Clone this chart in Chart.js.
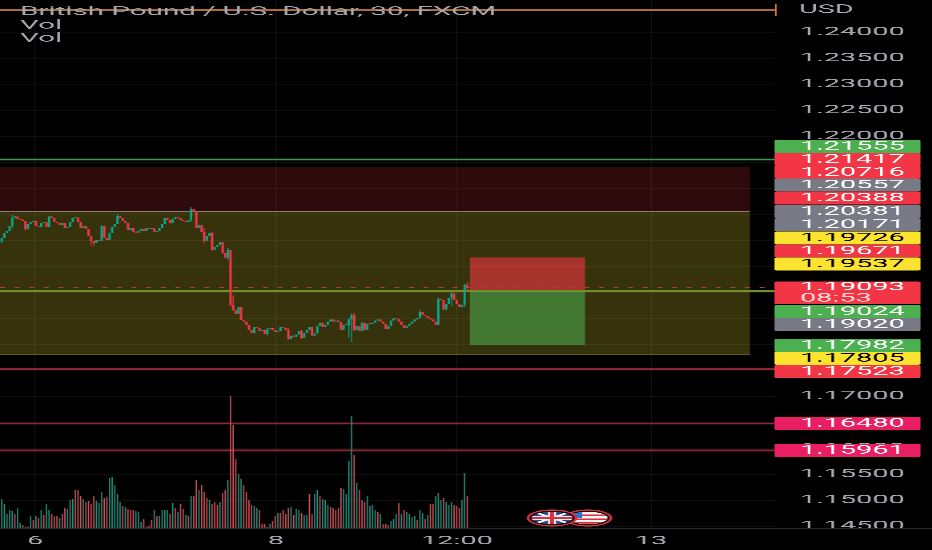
<!DOCTYPE html>
<html>
<head>
<meta charset="utf-8">
<title>GBPUSD</title>
<script src="https://cdn.jsdelivr.net/npm/chart.js@4/dist/chart.umd.min.js"></script>
<style>
html, body { margin: 0; background: #000; overflow: hidden; width: 932px; height: 550px; }
#wrap { position: absolute; left: 0; top: 0; transform-origin: 0 0; filter: blur(0.3px); }
</style>
</head>
<body>
<div id="wrap"><canvas id="gbp" width="388" height="550"></canvas></div>
<script>
// the screenshot is stretched sideways, so the whole canvas gets stretched too
var WIDTH = 388;
var STRETCH = 932 / WIDTH;
document.getElementById("wrap").style.transform = "scaleX(" + STRETCH + ")";
function sx(v) { return v / STRETCH; }

var firstOpen = 1.1996;
var closes = [
  1.2005,1.2014,1.2018,1.2028,1.2043,1.2046,1.2041,1.2040,1.2037,1.2022,
  1.2031,1.2035,1.2037,1.2028,1.2026,1.2033,1.2036,1.2026,1.2046,1.2043,
  1.2035,1.2034,1.2030,1.2033,1.2024,1.2026,1.2035,1.2043,1.2044,1.2035,
  1.2024,1.2028,1.2022,1.2008,1.1999,1.1995,1.2001,1.1999,1.2028,1.2005,
  1.2001,1.2014,1.2026,1.2031,1.2047,1.2043,1.2037,1.2033,1.2020,1.2024,
  1.2016,1.2015,1.2018,1.2022,1.2018,1.2024,1.2022,1.2023,1.2016,1.2018,
  1.2024,1.2031,1.2043,1.2039,1.2033,1.2041,1.2045,1.2043,1.2039,1.2037,
  1.2035,1.2039,1.2060,1.2055,1.2024,1.2030,1.2016,1.1999,1.2008,1.2014,
  1.1982,1.1988,1.1991,1.1997,1.1976,1.1967,1.1982,1.1876,1.1866,1.1859,
  1.1872,1.1847,1.1844,1.1838,1.1828,1.1822,1.1834,1.1832,1.1826,1.1828,
  1.1820,1.1830,1.1832,1.1828,1.1824,1.1826,1.1834,1.1832,1.1828,1.1811,
  1.1817,1.1815,1.1819,1.1826,1.1813,1.1822,1.1828,1.1834,1.1817,1.1821,
  1.1836,1.1842,1.1834,1.1838,1.1844,1.1848,1.1844,1.1846,1.1843,1.1828,
  1.1838,1.1838,1.1848,1.1857,1.1828,1.1836,1.1826,1.1842,1.1828,1.1840,
  1.1839,1.1842,1.1846,1.1848,1.1844,1.1840,1.1830,1.1836,1.1846,1.1850,
  1.1849,1.1844,1.1838,1.1832,1.1836,1.1840,1.1844,1.1848,1.1851,1.1863,
  1.1857,1.1855,1.1851,1.1848,1.1844,1.1838,1.1888,1.1886,1.1867,1.1878,
  1.1890,1.1898,1.1886,1.1877,1.1872,1.1876,1.1915,1.1909
];
var opens = closes.map(function (c, i) { return i ? closes[i - 1] : firstOpen; });

// only the wicks that can actually be seen in the picture
var wickSlots = [4,9,34,35,38,44,72,77,80,84,86,87,88,101,109,114,132,133,134,159,166,171,176,177];
var wickHighs = [1.2049,1.2037,1.2008,1.1999,1.2030,1.2051,1.2064,1.2024,1.2016,1.1997,1.1986,1.1978,1.1894,1.1832,1.1832,1.1828,1.1851,1.1861,1.1861,1.1867,1.1890,1.1901,1.1917,1.1920];
var wickLows  = [1.2024,1.2018,1.1990,1.1990,1.1999,1.2031,1.2035,1.1995,1.1980,1.1974,1.1963,1.1874,1.1865,1.1817,1.1809,1.1811,1.1813,1.1804,1.1826,1.1851,1.1853,1.1874,1.1872,1.1903];

var volumes = [
  29,24,14,18,17,14,20,5,3,1,
  1,12,8,12,10,18,13,24,18,14,
  12,12,10,14,20,19,28,29,38,38,
  32,29,26,27,24,32,27,25,36,30,
  31,50,51,43,34,26,22,21,19,18,
  18,17,16,6,9,1,2,8,18,12,
  12,18,18,18,14,25,20,16,24,19,
  13,12,32,32,48,38,43,36,30,28,
  24,26,23,26,35,38,48,132,103,69,
  54,49,43,36,28,23,22,20,18,4,
  4,1,4,7,12,15,15,18,14,20,
  21,13,19,18,15,13,13,34,14,34,
  38,32,29,28,23,21,20,18,20,40,
  39,34,67,112,73,45,38,28,26,32,
  22,23,18,16,14,4,4,3,7,9,
  14,25,14,18,16,14,11,12,8,18,
  15,9,13,24,24,32,35,28,30,26,
  23,26,23,22,20,28,55,32
];
var volumeDirs = ("uuuuuduudd" + "dudududuud" + "ddudduuudd" + "dudddduuud" + "duuuuududd" +
  "duuuddddud" + "uuuudududd" + "ududdudddu" + "dddudduddd" + "uudddduudd" +
  "dduddudddd" + "uduuduuddu" + "uduuuddddd" + "uuuududddu" + "uuududdduu" +
  "ududuuuudu" + "ududduuudu" + "uuddduud").split("");

var yTicks = [1.24,1.235,1.23,1.225,1.22,1.215,1.21,1.205,1.2,1.195,1.19,1.185,1.18,1.175,1.17,1.165,1.16,1.155,1.15,1.145];
var xTickSlots = [12.7, 104.3, 173.1, 246.9];
var xTickLabels = ["6", "8", "12:00", "13"];

var greenLine = 1.21555;
var redLines = [1.17523, 1.16480, 1.15961];
var entryLine = 1.19024;
var lastPrice = 1.19093;
var topLine = 1.24429;

var redZone = [1.21417, 1.20557];
var yellowZone = [1.20557, 1.17805];
var zoneEndSlot = 284.5;
var tradeSlots = [178, 221.8];
var tradeStop = 1.19671;
var tradeTarget = 1.17982;

var tagTexts = ["1.21555","1.21417","1.20716","1.20557","1.20388","1.20381","1.20171","1.19726","1.19671","1.19537","1.19093","1.19024","1.19020","1.17982","1.17805","1.17523","1.16480","1.15961"];
var tagKinds = ["green","red","red","gray","red","gray","gray","yellow","red","yellow","red","green","gray","green","yellow","red","pink","pink"];
var countdown = "08:53";

// where the price tags end up after stacking (pixels, not data)
var tagRows = [146.5,159.3,172.2,185,198,211.5,224.8,238,251,264,287,311.7,324.3,345.3,358.2,371.5,423.3,450.3];
var tagFill = { green: "#4caf50", red: "#f23645", gray: "#787b86", yellow: "#fbe32f", pink: "#e91e63" };

var UP = "#0ea68b", DOWN = "#f5364a";
var TEXT = "#a6a8ae";
var FONT = "Roboto";

function slots(n) { var a = []; for (var i = 0; i < n; i++) a.push(i); return a; }

var overlay = {
  id: "overlay",
  beforeDatasetsDraw: function (chart) {
    var c = chart.ctx, a = chart.chartArea, x = chart.scales.x, y = chart.scales.y;
    function band(v1, v2, s1, s2, col) {
      var y1 = y.getPixelForValue(v1), y2 = y.getPixelForValue(v2);
      c.fillStyle = col;
      c.fillRect(s1, y1, s2 - s1, y2 - y1);
    }
    function hline(v, end, col, w) {
      var py = y.getPixelForValue(v);
      c.strokeStyle = col; c.lineWidth = w;
      c.beginPath(); c.moveTo(a.left, py); c.lineTo(end, py); c.stroke();
    }
    var zoneEnd = x.getPixelForValue(zoneEndSlot);
    band(redZone[0], redZone[1], a.left, zoneEnd, "rgba(242,54,69,0.19)");
    band(yellowZone[0], yellowZone[1], a.left, zoneEnd, "rgba(255,235,59,0.21)");
    hline(redZone[1], zoneEnd, "#8a8168", 1.3);
    hline(yellowZone[1], zoneEnd, "#5e5a24", 1.2);

    var t1 = x.getPixelForValue(tradeSlots[0]), t2 = x.getPixelForValue(tradeSlots[1]);
    band(tradeStop, entryLine, t1, t2, "rgba(242,54,69,0.6)");
    band(entryLine, tradeTarget, t1, t2, "rgba(76,175,80,0.56)");

    hline(greenLine, a.right, "#3f9a45", 1.9);
    redLines.forEach(function (v) { hline(v, a.right, "#8f2434", 1.9); });
    hline(entryLine, a.right, "#6f8f2a", 1.6);
    c.save();
    c.setLineDash([sx(5), 4]);
    hline(lastPrice, a.right, "#a8423a", 1.2);
    c.restore();
  },
  afterDraw: function (chart) {
    var c = chart.ctx, a = chart.chartArea, y = chart.scales.y;
    // bottom strip hides the clipped tick label and carries the axis line
    c.fillStyle = "#000";
    c.fillRect(a.right, a.bottom, chart.width - a.right, 3);
    c.fillStyle = "#2b2b2b";
    c.fillRect(0, a.bottom, chart.width, 0.8);

    // orange line on top
    var py = y.getPixelForValue(topLine);
    c.fillStyle = "#b06a3c";
    c.fillRect(0, py - 0.7, a.right, 1.4);
    c.fillStyle = "#d07a3a";
    c.fillRect(a.right, py - 6, sx(1.6), 12);

    c.textBaseline = "middle";
    c.textAlign = "left";
    c.font = "12.3px " + FONT;
    c.fillStyle = TEXT;
    c.fillText("British Pound / U.S. Dollar, 30, FXCM", sx(20), 12);
    c.fillText("Vol", sx(20), 25.5);
    c.fillText("Vol", sx(20), 38.5);
    c.font = "12px " + FONT;
    c.fillText("USD", sx(799), 10);

    // price tags
    var left = sx(774.5), w = sx(146), textX = sx(800);
    tagTexts.forEach(function (t, i) {
      var kind = tagKinds[i], mid = tagRows[i];
      var two = t === "1.19093";
      var top = two ? 281.5 : mid - 6.5, h = two ? 22.8 : 13;
      c.fillStyle = tagFill[kind];
      c.beginPath();
      c.roundRect(left, top, w, h, 1);
      c.fill();
      c.fillStyle = kind === "yellow" ? "#000" : "#fff";
      c.fillText(t, textX, mid + 0.3);
      if (two) { c.fillStyle = "#ffd9d9"; c.fillText(countdown, textX, mid + 11.5); }
    });

    drawFlags(c);
  }
};

function drawFlags(c) {
  var ry = 8, usX = sx(588), ukX = sx(552), rxUs = sx(23), rxUk = sx(24);
  // US
  c.save();
  c.beginPath(); c.ellipse(usX, 518, rxUs, ry, 0, 0, Math.PI * 2);
  c.fillStyle = "#111"; c.fill(); c.lineWidth = 1.1; c.strokeStyle = "#d8303f"; c.stroke();
  c.beginPath(); c.ellipse(usX, 518, rxUs * 0.85, ry * 0.78, 0, 0, Math.PI * 2); c.clip();
  c.fillStyle = "#f4f4f4"; c.fillRect(usX - rxUs, 510, rxUs * 2, 16);
  c.fillStyle = "#d8303f";
  c.fillRect(usX - rxUs, 514.5, rxUs * 2, 1.6);
  c.fillRect(usX - rxUs, 518.5, rxUs * 2, 1.6);
  c.fillRect(usX - rxUs, 522, rxUs * 2, 1.6);
  c.fillStyle = "#2f6fd0"; c.fillRect(usX - rxUs, 510, rxUs * 0.75, 8);
  c.restore();
  // UK
  c.save();
  c.beginPath(); c.ellipse(ukX, 518, rxUk, ry, 0, 0, Math.PI * 2);
  c.fillStyle = "#111"; c.fill(); c.lineWidth = 1.1; c.strokeStyle = "#d8303f"; c.stroke();
  c.beginPath(); c.ellipse(ukX, 518, rxUk * 0.85, ry * 0.78, 0, 0, Math.PI * 2); c.clip();
  c.fillStyle = "#2c4488"; c.fillRect(ukX - rxUk, 510, rxUk * 2, 16);
  c.strokeStyle = "#f2f2f2"; c.lineWidth = 1.6;
  c.beginPath();
  c.moveTo(ukX - rxUk, 510); c.lineTo(ukX + rxUk, 526);
  c.moveTo(ukX + rxUk, 510); c.lineTo(ukX - rxUk, 526);
  c.stroke();
  c.fillStyle = "#f2f2f2";
  c.fillRect(ukX - rxUk, 515.8, rxUk * 2, 4.4);
  c.fillRect(ukX - sx(4), 510, sx(8), 16);
  c.fillStyle = "#d8303f";
  c.fillRect(ukX - rxUk, 516.9, rxUk * 2, 2.2);
  c.fillRect(ukX - sx(2), 510, sx(4), 16);
  c.restore();
}

var idx = slots(closes.length);

new Chart(document.getElementById("gbp").getContext("2d"), {
  type: "bar",
  plugins: [overlay],
  data: {
    datasets: [
      {
        label: "Bodies", yAxisID: "y", order: 1, minBarLength: 1,
        barThickness: sx(2.3), inflateAmount: 0, grouped: false,
        backgroundColor: idx.map(function (i) { return closes[i] >= opens[i] ? UP : DOWN; }),
        data: idx.map(function (i) { return { x: i, y: [opens[i], closes[i]] }; })
      },
      {
        label: "Wicks", yAxisID: "y", order: 2,
        barThickness: sx(1), inflateAmount: 0, grouped: false,
        backgroundColor: wickSlots.map(function (s) { return closes[s] >= opens[s] ? UP : DOWN; }),
        data: wickSlots.map(function (s, i) { return { x: s, y: [wickLows[i], wickHighs[i]] }; })
      },
      {
        label: "Vol", yAxisID: "vol", order: 3,
        barThickness: sx(1.3), inflateAmount: 0, grouped: false,
        backgroundColor: volumeDirs.map(function (d) { return d === "u" ? "#268f7d" : "#cc5058"; }),
        data: volumes.map(function (v, i) { return { x: i, y: v }; })
      }
    ]
  },
  options: {
    responsive: false,
    animation: false,
    devicePixelRatio: 3,
    layout: { padding: 0, autoPadding: false },
    plugins: { legend: { display: false }, title: { display: false }, tooltip: { enabled: false } },
    scales: {
      x: {
        type: "linear", offset: false, min: -0.65, max: 294.03,
        afterBuildTicks: function (s) { s.ticks = xTickSlots.map(function (v) { return { value: v }; }); },
        afterFit: function (s) { s.height = 22; s.paddingLeft = 0; s.paddingRight = 0; },
        border: { display: false },
        grid: { color: "rgba(255,255,255,0.07)", lineWidth: sx(1.2), drawTicks: false, offset: false },
        ticks: {
          color: TEXT, font: { family: FONT, size: 12 }, padding: 6, maxRotation: 0, autoSkip: false,
          callback: function (v) { return xTickLabels[xTickSlots.indexOf(v)]; }
        }
      },
      y: {
        type: "linear", position: "right", min: 1.14471, max: 1.24621,
        afterBuildTicks: function (s) { s.ticks = yTicks.map(function (v) { return { value: v }; }); },
        afterFit: function (s) { s.width = WIDTH - sx(775); s.paddingTop = 0; s.paddingBottom = 0; },
        border: { display: false },
        grid: { color: "rgba(255,255,255,0.06)", lineWidth: 0.8, drawTicks: false },
        ticks: {
          color: TEXT, font: { family: FONT, size: 12 }, padding: sx(25), autoSkip: false,
          callback: function (v) { return v.toFixed(5); }
        }
      },
      vol: { type: "linear", display: false, min: 0, max: 528 }
    }
  }
});
</script>
</body>
</html>
